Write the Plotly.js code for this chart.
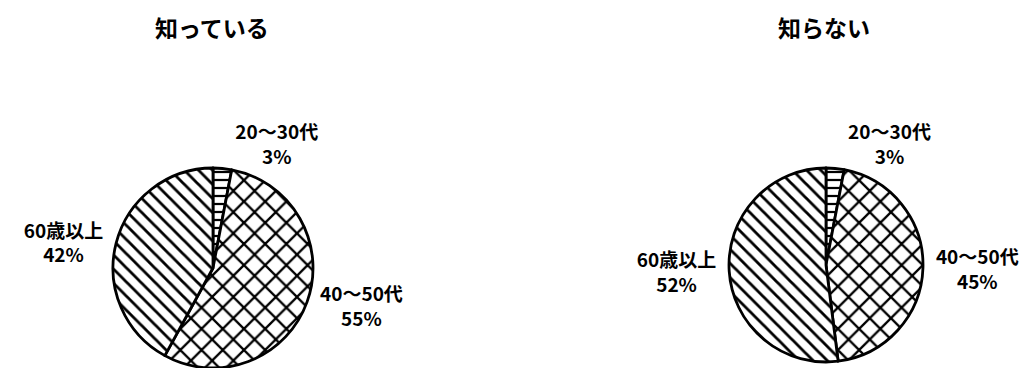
<!DOCTYPE html>
<html>
<head>
<meta charset="utf-8">
<script src="https://cdn.plot.ly/plotly-3.0.1.min.js"></script>
<style>html,body{margin:0;padding:0;background:#fff;}#chart{width:1030px;height:368px;}</style>
</head>
<body>
<div id="chart"></div>
<script>
const categories = ["20～30代", "40～50代", "60歳以上"];
const knowValues = [3, 55, 42];
const notKnowValues = [3, 45, 52];
const chartTitles = ["知っている", "知らない"];

const FONT = '"Noto Sans CJK JP", "Noto Sans", sans-serif';
const patternShapes = ["-", "x", "\\"];
const patternSizes = [8, 15, 10];

function pieTrace(values, domain) {
  return {
    type: 'pie',
    labels: categories,
    values: values,
    sort: false,
    direction: 'clockwise',
    rotation: 0,
    domain: domain,
    textinfo: 'label+percent',
    textposition: 'outside',
    outsidetextfont: {family: FONT, size: 19, color: '#000', weight: 'bold'},
    marker: {
      colors: ['#ffffff', '#ffffff', '#ffffff'],
      line: {color: '#000', width: 2.8},
      pattern: {
        shape: patternShapes,
        size: patternSizes,
        solidity: 0.28,
        fgcolor: '#000',
        fgopacity: 1,
        bgcolor: '#fff',
        fillmode: 'replace'
      }
    },
    hoverinfo: 'none',
    showlegend: false
  };
}

const data = [
  pieTrace(knowValues, {x: [113/1030, 313/1030], y: [0, 200/368]}),
  pieTrace(notKnowValues, {x: [729/1030, 923/1030], y: [6/368, 200/368]})
];

const layout = {
  width: 1030,
  height: 368,
  margin: {l: 0, r: 0, t: 0, b: 0},
  paper_bgcolor: '#fff',
  plot_bgcolor: '#fff',
  showlegend: false,
  annotations: [
    {text: chartTitles[0], x: 212/1030, y: 1 - 27/368, xref: 'paper', yref: 'paper',
     xanchor: 'center', yanchor: 'middle', showarrow: false,
     font: {family: FONT, size: 23, color: '#000', weight: 'bold'}},
    {text: chartTitles[1], x: 824/1030, y: 1 - 27/368, xref: 'paper', yref: 'paper',
     xanchor: 'center', yanchor: 'middle', showarrow: false,
     font: {family: FONT, size: 23, color: '#000', weight: 'bold'}}
  ]
};

Plotly.newPlot('chart', data, layout, {displayModeBar: false, staticPlot: true});
</script>
</body>
</html>
